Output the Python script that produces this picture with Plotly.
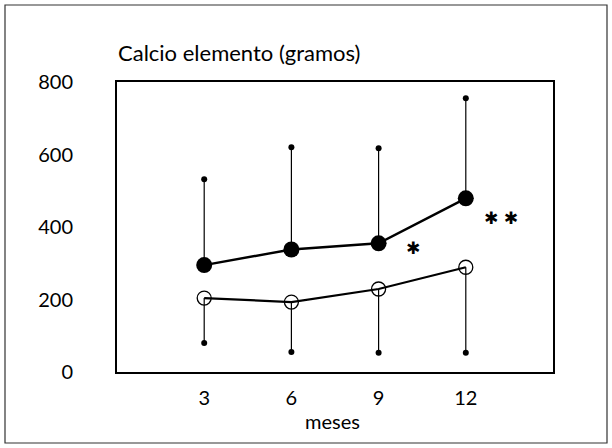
import plotly.graph_objects as go

months = [3, 6, 9, 12]
tick_labels = ["3", "6", "9", "12"]
filled_mean = [295, 338, 355, 479]
filled_upper = [532, 620, 617, 755]
open_mean = [204, 193, 229, 289]
open_lower = [80, 55, 53, 53]
y_ticks = [0, 200, 400, 600, 800]

FONT = "Lato"

def segs(xs, a, b):
    X, Y = [], []
    for x, y0, y1 in zip(xs, a, b):
        X += [x, x, None]
        Y += [y0, y1, None]
    return X, Y

fig = go.Figure()
sx, sy = segs(months, filled_mean, filled_upper)
fig.add_trace(go.Scatter(x=sx, y=sy, mode="lines", line=dict(color="black", width=1.2), hoverinfo="skip"))
sx, sy = segs(months, open_mean, open_lower)
fig.add_trace(go.Scatter(x=sx, y=sy, mode="lines", line=dict(color="black", width=1.2), hoverinfo="skip"))
fig.add_trace(go.Scatter(x=months, y=filled_upper, mode="markers", marker=dict(color="black", size=6)))
fig.add_trace(go.Scatter(x=months, y=open_lower, mode="markers", marker=dict(color="black", size=6)))
fig.add_trace(go.Scatter(x=months, y=open_mean, mode="lines+markers",
                         line=dict(color="black", width=2.2),
                         marker=dict(symbol="circle-open", size=14, color="black", line=dict(width=1.3))))
fig.add_trace(go.Scatter(x=months, y=filled_mean, mode="lines+markers",
                         line=dict(color="black", width=2.4),
                         marker=dict(symbol="circle", size=16, color="black")))

W, H = 612, 448
L, R, T, B = 117, 59, 82, 76
pw, ph = W - L - R, H - T - B
def px(x): return (x - L) / pw
def py(y): return (H - B - y) / ph

fig.add_shape(type="rect", xref="paper", yref="paper",
              x0=px(5), x1=px(607), y0=py(443), y1=py(5),
              line=dict(color="#333", width=1.2), fillcolor="rgba(0,0,0,0)", layer="below")

fig.add_annotation(text="Calcio elemento (gramos)", xref="paper", yref="paper",
                   x=px(116), y=py(52), xanchor="left", yanchor="middle", showarrow=False,
                   font=dict(family=FONT, size=22, color="black"))
fig.add_annotation(text="meses", xref="paper", yref="paper",
                   x=px(332), y=py(421), xanchor="center", yanchor="middle", showarrow=False,
                   font=dict(family=FONT, size=20, color="black"))
fig.add_annotation(text="✱", x=10.2, y=342, showarrow=False,
                   font=dict(family="DejaVu Sans", size=17, color="black"))
fig.add_annotation(text="✱ ✱", x=13.2, y=425, showarrow=False,
                   font=dict(family="DejaVu Sans", size=17, color="black"))

fig.update_layout(
    width=W, height=H, margin=dict(l=L, r=R, t=T, b=B),
    paper_bgcolor="white", plot_bgcolor="white", showlegend=False,
    font=dict(family=FONT, size=20, color="black"),
)
fig.update_xaxes(range=[0, 15], tickvals=months, ticktext=tick_labels, showgrid=False, zeroline=False,
                 showline=True, mirror=True, linecolor="black", linewidth=2, ticks="",
                 ticklabelstandoff=7, tickfont=dict(family=FONT, size=20))
fig.update_yaxes(range=[0, 800], tickvals=y_ticks, showgrid=False, zeroline=False,
                 showline=True, mirror=True, linecolor="black", linewidth=2, ticks="",
                 ticklabelstandoff=38, tickfont=dict(family=FONT, size=20))

fig.write_html("out.html")
